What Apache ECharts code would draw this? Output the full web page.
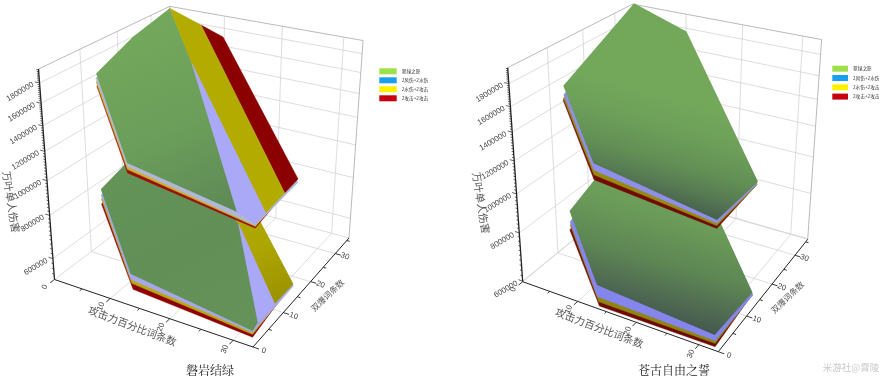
<!DOCTYPE html>
<html><head><meta charset="utf-8"><style>html,body{margin:0;background:#fff}#c{width:881px;height:379px}</style>
<script src="https://cdn.jsdelivr.net/npm/echarts@6/dist/echarts.min.js"></script></head><body><div id="c"></div><script>
// ---- data: [attack rolls, crit rolls, damage in thousands] ----
const layerNames=['翠绿之影','2风伤+2水伤','2水伤+2攻击','2攻击+2攻击'];
const legendColors=['#9fe04a','#1a9fee','#fff200','#c5000f'];
const xTicks=[0,10,20,30], yTicks=[0,10,20,30];
const zTicks=[600,800,1000,1200,1400,1600,1800];
const zTickLabels=['600000','800000','1000000','1200000','1400000','1600000','1800000'];
const xMax=33,yMax=36;
// 磐岩结绿 upper stack
const j1Green=[[13.8,0,1278],[3.3,9,1750],[1.5,22,1864],[0,36,1927],[9,27,1573],[30.3,0,1142]];
const j1BlueBand=[[9,27,1573],[30.3,0,1142],[32.9,0,1097],[32.5,4,1085]];
const j1YellowBand=[[0,36,1927],[5.8,36,1789],[32.3,10.5,1091],[32.5,4,1085],[9,27,1573]];
const j1RedBand=[[5.8,36,1789],[9.8,36,1698],[32.3,15,1103],[32.3,10.5,1091]];
const j1BlueUnder=[[13.8,0,1252],[3.2,9,1703],[0,36,1900],[9.8,36,1670],[32.3,15,1080],[32.9,0,1088]];
const j1YellowUnder=[[13.8,0,1230],[3.2,9,1662],[0,36,1880],[9.8,36,1650],[32,15,1093],[32.9,0,1082]];
const j1RedUnder=[[13.8,0,1205],[3.3,9,1623],[0,36,1860],[9.8,36,1630],[32,15,1093],[32.9,0,1072]];
// 磐岩结绿 lower stack
const j2Green=[[13.7,0,642],[3.1,9,843],[1.4,22,865],[0,36,845],[21.8,18,701],[32.5,2.5,572],[32.9,0,575]];
const j2BlueBand=[[21.8,18,701],[32.5,2.5,572],[32.5,8,571]];
const j2YellowBand=[[0,36,845],[9.8,36,781],[32.3,15,562],[32.5,8,571],[21.8,18,701]];
const j2BlueUnder=[[13.7,0,620],[3.1,9,811],[0,36,830],[9.8,36,770],[32.3,15,554],[32.9,0,570]];
const j2YellowUnder=[[13.8,0,605],[3.1,9,790],[0,36,820],[9.8,36,760],[32.1,15,555],[32.9,0,563]];
const j2RedUnder=[[14,0,583],[3.1,9,764],[0,36,810],[9.8,36,750],[31.8,15,549],[32.9,0,553]];
// 苍古自由之誓 upper stack
const f1Green=[[13.6,0,1337],[3.2,9,1648],[0.3,36,1965],[10.1,36,1766],[31.9,15,1158],[32.3,0,1199]];
const f1Blue=[[13.6,0,1292],[3.2,9,1570],[0.3,36,1931],[10.1,36,1736],[31.8,15,1142],[32.3,0,1179]];
const f1Yellow=[[13.6,0,1260],[3.1,9,1540],[0.3,36,1912],[10.1,36,1716],[31.8,15,1138],[32.3,0,1165]];
const f1Red=[[13.6,0,1228],[3.05,9,1524],[0.3,36,1892],[10.1,36,1696],[31.6,15,1130],[32.3,0,1149]];
// 苍古自由之誓 lower stack
const f2Green=[[13.5,0,687],[3.3,9,815],[0.8,36,931],[10.2,36,873],[31.8,15,615],[32.4,0,652]];
const f2Blue=[[13.5,0,642],[3.3,9,763],[0.8,36,909],[10.2,36,855],[31.9,15,607],[32.5,0,632]];
const f2Yellow=[[13.7,0,624],[3.3,9,748],[0.8,36,899],[10.2,36,845],[31.7,15,604],[32.5,0,622]];
const f2Red=[[13.8,0,609],[3.2,9,726],[0.8,36,889],[10.2,36,835],[31.6,15,601],[32.5,0,611]];

// ---- layout: screen corners of the two 3D boxes ----
function isect(a,b,c,d){const s=d[0]-c[0],t=d[1]-c[1],p=b[0]-a[0],q=b[1]-a[1];const k=((c[0]-a[0])*t-(c[1]-a[1])*s)/(p*t-q*s);return [a[0]+k*p,a[1]+k*q];}
function cam(L,F,R,TL,TB,TR,zMin,zMax){
  const Vx=isect(L,F,TB,TR),Vy=isect(F,R,TL,TB),Vz=isect(L,TL,R,TR);
  const tau=(a,b,v)=>{const dx=b[0]-a[0],dy=b[1]-a[1];return (dx*dx+dy*dy)/(dx*(v[0]-a[0])+dy*(v[1]-a[1]));};
  const tx=tau(L,F,Vx),ty=tau(F,R,Vy),tz=tau(L,TL,Vz);
  const cx=tx/(1-tx),cy=ty*(1+cx)/(1-ty),cz=tz/(1-tz);
  return {O:L,Vx,Vy,Vz,cx,cy,cz,zMin,zMax};
}
const camJ=cam([54.5,279.5],[253,347],[349,238],[38.5,69],[169,6.7],[363,41],520,1950);
const camF=cam([522.7,281.7],[718.3,351.7],[807.7,239.3],[507.7,67.7],[634.3,3.3],[821.7,38.3],598,1951);
function project(c,p){
  const u=p[0]/xMax*c.cx,v=p[1]/yMax*c.cy,w=Math.log(p[2]/c.zMin)/Math.log(c.zMax/c.zMin)*c.cz;
  const d=1+u+v+w;
  return [(c.O[0]+u*c.Vx[0]+v*c.Vy[0]+w*c.Vz[0])/d,(c.O[1]+u*c.Vx[1]+v*c.Vy[1]+w*c.Vz[1])/d];
}
const grad=(x,y,x2,y2,stops)=>({type:'linear',x,y,x2,y2,colorStops:stops.map(c=>({offset:c[0],color:c[1]}))});
const gLeftU=grad(0.2,0,0.8,1,[[0,'#74aa5c'],[0.6,'#6b9e5a'],[1,'#5f8a56']]);
const gLeftL=grad(0.2,0,0.8,1,[[0,'#659559'],[0.6,'#618f56'],[1,'#649259']]);
const gRightU=grad(0.938,0.53,0.79,1,[[0,'#73a85b'],[0.3,'#6d9f59'],[0.6,'#628f55'],[0.8,'#567a52'],[1,'#47604f']]);
const gRightL=grad(0.995,0.367,0.79,1,[[0,'#70a55a'],[0.3,'#6a9a58'],[0.6,'#5d8654'],[0.8,'#526f52'],[1,'#44594f']]);
// facets: [camera, layer index, paint order, points, fill]
const facets=[
 [camJ,3,10,j2RedUnder,'#8f0000'],[camJ,2,11,j2YellowUnder,'#b8a810'],[camJ,1,12,j2BlueUnder,'#a6a8e6'],
 [camJ,0,13,j2Green,gLeftL],[camJ,2,14,j2YellowBand,grad(0.2,0,0.8,1,[[0,'#b3ab00'],[0.7,'#aea600'],[1,'#9b9300']])],[camJ,1,15,j2BlueBand,'#a9a9f7'],
 [camJ,3,20,j1RedUnder,'#991006'],[camJ,2,21,j1YellowUnder,'#d0b030'],[camJ,1,22,j1BlueUnder,'#aeb8d6'],
 [camJ,0,23,j1Green,gLeftU],[camJ,3,24,j1RedBand,'#8b0000'],[camJ,2,25,j1YellowBand,'#b3ab00'],[camJ,1,26,j1BlueBand,'#a9a9f7'],
 [camF,3,10,f2Red,'#6e0a00'],[camF,2,11,f2Yellow,'#8f8510'],[camF,1,12,f2Blue,'#8585ee'],[camF,0,13,f2Green,gRightL],
 [camF,3,20,f1Red,'#720a00'],[camF,2,21,f1Yellow,'#978a10'],[camF,1,22,f1Blue,'#8d8fe8'],[camF,0,23,f1Green,gRightU]
];
// frame: grid lines, axes, ticks, labels
const GRID='#cfcfcf',EDGE='#a8a8a8',AX='#222';
const frame=[];
const ln=(c,a,b,color,lw)=>frame.push({k:'l',a:project(c,a),b:project(c,b),color,lw});
const tx=(c,p,text,rot,size,align)=>{const q=project(c,p);frame.push({k:'t',p:q,text,rot,size,align,fill:'#444'});};
function buildFrame(c,names,xPos,yPos,zPos){
  const lo=c.zMin,hi=c.zMax;
  xTicks.slice(1).forEach(t=>{ln(c,[t,0,lo],[t,yMax,lo],GRID,.7);ln(c,[t,yMax,lo],[t,yMax,hi],GRID,.7);});
  yTicks.slice(1).forEach(t=>{ln(c,[0,t,lo],[xMax,t,lo],GRID,.7);ln(c,[0,t,lo],[0,t,hi],GRID,.7);});
  zTicks.forEach(z=>{ln(c,[0,0,z],[0,yMax,z],GRID,.7);ln(c,[0,yMax,z],[xMax,yMax,z],GRID,.7);});
  ln(c,[0,yMax,lo],[xMax,yMax,lo],GRID,.7);ln(c,[0,0,lo],[0,yMax,lo],GRID,.7);
  ln(c,[0,0,hi],[0,yMax,hi],EDGE,.8);ln(c,[0,yMax,hi],[xMax,yMax,hi],EDGE,.8);
  ln(c,[0,yMax,lo],[0,yMax,hi],EDGE,.8);ln(c,[xMax,yMax,lo],[xMax,yMax,hi],EDGE,.8);
  ln(c,[0,0,lo],[xMax,0,lo],AX,1);ln(c,[xMax,0,lo],[xMax,yMax,lo],AX,1);ln(c,[0,0,lo],[0,0,hi],AX,1.3);
  for(let t=0;t<=xMax;t+=5){const M=t%10===0;ln(c,[t,0,lo],[t,M?-1.1:-.6,lo],AX,.9);}
  for(let t=0;t<=yMax;t+=5){const M=t%10===0;ln(c,[xMax,t,lo],[xMax+(M?.9:.5),t,lo],AX,.9);}
  for(let z=lo-lo%20+20;z<=hi;z+=20){ln(c,[0,0,z],[z%200===0?-.8:-.35,0,z],AX,.7);}
  xTicks.forEach(t=>tx(c,[t,-2.5,lo],String(t),1.2,7.8,'center'));
  yTicks.forEach(t=>tx(c,[xMax+1.6,t,lo],String(t),-.35,7.8,'center'));
  zTicks.forEach((z,i)=>tx(c,[-.5,-.8,z],zTickLabels[i],.54,7.8,'right'));
  frame.push({k:'t',p:xPos,text:names[0],rot:-.36,size:10.4,align:'center',fill:'#555'});
  frame.push({k:'t',p:yPos,text:names[1],rot:.76,size:8.4,align:'center',fill:'#555'});
  frame.push({k:'t',p:zPos,text:names[2],rot:-1.41,size:10.4,align:'center',fill:'#555'});
}
const axisNames=['攻击力百分比词条数','双爆词条数','万叶单人伤害'];
buildFrame(camJ,axisNames,[132,327],[328,296],[10,202]);
buildFrame(camF,axisNames,[599,329],[788,298],[480,203]);
const FONT='"Liberation Sans","Noto Sans CJK SC",sans-serif';
const chart=echarts.init(document.getElementById('c'),null,{renderer:'canvas'});
const hiddenAxis={type:'value',show:false,min:0,splitLine:{show:false}};
const series=[{
  type:'custom',name:'frame',silent:true,animation:false,clip:false,
  data:frame.map((f,i)=>[i,i]),
  renderItem(params,api){const f=frame[params.dataIndex];
    if(f.k==='l'){const a=api.coord(f.a),b=api.coord(f.b);
      return {type:'line',z2:1,shape:{x1:a[0],y1:a[1],x2:b[0],y2:b[1]},style:{stroke:f.color,lineWidth:f.lw}};}
    const p=api.coord(f.p);
    return {type:'text',z2:2,x:p[0],y:p[1],rotation:f.rot,style:{text:f.text,x:0,y:0,align:f.align,verticalAlign:'middle',fill:f.fill,font:f.size+'px '+FONT}};
  }
}];
layerNames.forEach((name,li)=>{
  const own=facets.filter(f=>f[1]===li);
  series.push({type:'custom',name,silent:true,animation:false,clip:false,itemStyle:{color:legendColors[li]},
    data:own.map((f,i)=>[i,i]),
    renderItem(params,api){const f=own[params.dataIndex];
      const pts=f[3].map(p=>api.coord(project(f[0],p)));
      const solid=typeof f[4]==='string';
      return {type:'polygon',z2:f[2],shape:{points:pts},style:{fill:f[4],stroke:solid?f[4]:null,lineWidth:solid?.4:0}};
    }});
});
const legendBase={orient:'vertical',icon:'rect',selectedMode:false,padding:0,data:layerNames,
  textStyle:{fontSize:4.7,color:'#333',fontFamily:'"Noto Sans CJK SC"'}};
chart.setOption({
  animation:false,backgroundColor:'#fff',
  grid:{left:0,right:0,top:0,bottom:0},
  xAxis:{...hiddenAxis,max:881},yAxis:{...hiddenAxis,max:379,inverse:true},
  title:[
    {text:'磐岩结绿',left:210,top:364,textAlign:'center',padding:0,textStyle:{fontSize:12,fontWeight:'normal',color:'#222',fontFamily:'"Noto Serif CJK SC","Noto Sans CJK SC"'}},
    {text:'苍古自由之誓',left:674,top:364,textAlign:'center',padding:0,textStyle:{fontSize:12,fontWeight:'normal',color:'#222',fontFamily:'"Noto Serif CJK SC","Noto Sans CJK SC"'}},
    {text:'米游社@霄陵',left:851,top:363,textAlign:'center',padding:0,textStyle:{fontSize:9.5,fontWeight:'normal',color:'#c9c9c9',fontFamily:'"Noto Sans CJK SC"'}}
  ],
  legend:[
    {...legendBase,left:379.3,top:68.3,itemWidth:17.4,itemHeight:6,itemGap:3},
    {...legendBase,left:832.3,top:65.7,itemWidth:15.7,itemHeight:6,itemGap:3.3}
  ],
  series
});
</script></body></html>
